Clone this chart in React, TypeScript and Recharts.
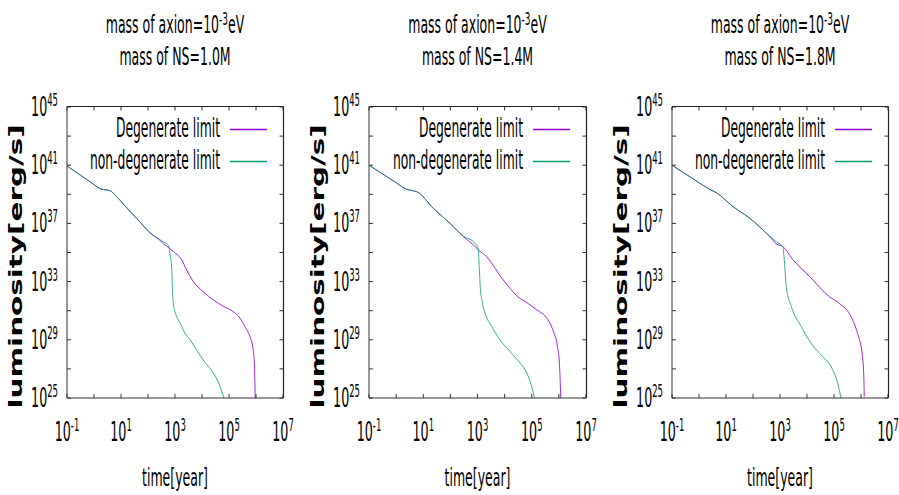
import React from "react";
import { LineChart, Line, XAxis, YAxis, Legend } from "recharts";

const FONT = "DejaVu Sans";
const AXIS = "#333";
const FRAME = "#222";
const DEG = "#9400d3";
const NONDEG = "#009e73";
const TXT_SX = 0.5;
const KEY_SX = 0.475;
const TICK_SX = 0.47;
const YW = 70; // left axis width
const RIGHT_PAD = 15;
const TOP = 107;
const PLOT_H = 291;

// axes are in decades: x = log10(time / year), y = log10(L / erg s^-1)
const xDomain = [-1, 7];
const yDomain = [25, 45];
const xTicks = [-1, 0, 1, 2, 3, 4, 5, 6, 7];
const xLabeled = [-1, 1, 3, 5, 7];
const yTicks = [25, 27, 29, 31, 33, 35, 37, 39, 41, 43, 45];
const yLabeled = [25, 29, 33, 37, 41, 45];

const axionExp = "-3";
const nsMasses = ["1.0", "1.4", "1.8"];

// NS = 1.0 M
const degT1 = [-1, -0.5, 0, 0.22, 0.45, 0.59, 0.84, 1.1, 1.46, 1.8, 2.07, 2.4, 2.57, 2.79, 2.94, 3.25, 3.43, 3.68, 4.05, 4.42, 4.79, 5.16, 5.41, 5.59, 5.78, 5.88, 5.94, 5.97];
const degL1 = [40.95, 40.31, 39.67, 39.39, 39.3, 39.25, 38.84, 38.3, 37.58, 36.9, 36.36, 35.9, 35.6, 35.3, 35.06, 34.49, 33.8, 33.0, 32.3, 31.74, 31.3, 30.93, 30.48, 29.9, 29.2, 28.5, 27.4, 25];
const nonT1 = [-1, -0.5, 0, 0.22, 0.45, 0.59, 0.84, 1.1, 1.46, 1.8, 2.07, 2.4, 2.57, 2.76, 2.81, 2.88, 2.9, 2.94, 3.06, 3.19, 3.37, 3.56, 3.8, 4.05, 4.42, 4.67, 4.81];
const nonL1 = [40.95, 40.31, 39.67, 39.39, 39.3, 39.25, 38.84, 38.3, 37.58, 36.9, 36.36, 35.95, 35.72, 35.5, 34.95, 33.8, 32.66, 31.5, 30.6, 30.15, 29.45, 29.0, 28.3, 27.6, 26.7, 25.8, 25];

// NS = 1.4 M
const degT2 = [-1, -0.5, 0, 0.39, 0.6, 0.76, 1.37, 1.99, 2.48, 2.85, 3.04, 3.34, 3.9, 4.2, 4.51, 4.76, 5.19, 5.56, 5.8, 5.95, 6.02, 6.07];
const degL2 = [41.0, 40.4, 39.8, 39.34, 39.25, 39.18, 38.04, 37.0, 36.09, 35.52, 35.17, 34.7, 33.23, 32.54, 31.92, 31.63, 31.05, 30.48, 29.56, 28.53, 27.38, 25];
const nonT2 = [-1, -0.5, 0, 0.39, 0.6, 0.76, 1.37, 1.99, 2.48, 2.85, 3.02, 3.07, 3.1, 3.16, 3.28, 3.53, 3.83, 4.2, 4.57, 4.82, 5.0, 5.1];
const nonL2 = [41.0, 40.4, 39.8, 39.34, 39.25, 39.18, 38.04, 37.0, 36.12, 35.74, 35.3, 33.8, 32.66, 31.74, 30.82, 29.9, 28.99, 28.19, 27.4, 26.7, 25.78, 25];

// NS = 1.8 M
const degT3 = [-1, -0.5, 0, 0.4, 0.65, 1.26, 1.88, 2.62, 2.86, 3.11, 3.48, 4.1, 4.83, 5.2, 5.63, 5.87, 6.04, 6.1, 6.12];
const degL3 = [41.0, 40.4, 39.8, 39.34, 39.1, 38.15, 37.35, 36.09, 35.6, 35.4, 34.5, 33.34, 31.96, 31.5, 30.6, 29.45, 28.07, 26.7, 25.1];
const nonT3 = [-1, -0.5, 0, 0.4, 0.65, 1.26, 1.88, 2.62, 2.86, 3.1, 3.17, 3.23, 3.42, 3.79, 4.15, 4.58, 4.89, 5.14, 5.26];
const nonL3 = [41.0, 40.4, 39.8, 39.34, 39.1, 38.15, 37.35, 36.12, 35.74, 35.4, 34.26, 32.65, 31.28, 29.9, 28.76, 27.84, 27.16, 26.0, 25];

const zip = (t: number[], l: number[]) => t.map((x, i) => ({ t: x, L: l[i] }));

const panels = [
  { left: 67, plotWidth: 216, ns: nsMasses[0], deg: zip(degT1, degL1), non: zip(nonT1, nonL1) },
  { left: 369, plotWidth: 217, ns: nsMasses[1], deg: zip(degT2, degL2), non: zip(nonT2, nonL2) },
  { left: 672, plotWidth: 216, ns: nsMasses[2], deg: zip(degT3, degL3), non: zip(nonT3, nonL3) },
];

function Pow({ x, y, exp, anchor }: any) {
  return (
    <text
      transform={`translate(${x},${y}) scale(${TICK_SX},1)`}
      textAnchor={anchor}
      fontFamily={FONT}
      fontSize={27}
      fill="#000"
    >
      10
      <tspan fontSize={18} dy={-10}>
        {exp}
      </tspan>
    </text>
  );
}

const BottomTick = (props: any) => {
  const { x, y, payload } = props;
  return (
    <g>
      <line x1={x} x2={x} y1={y} y2={y - 4} stroke={AXIS} />
      {xLabeled.includes(payload.value) && <Pow x={x} y={y + 43} exp={payload.value} anchor="middle" />}
    </g>
  );
};

const LeftTick = (props: any) => {
  const { x, y, payload } = props;
  return (
    <g>
      <line x1={x} x2={x + 4} y1={y} y2={y} stroke={AXIS} />
      {yLabeled.includes(payload.value) && <Pow x={x - 9} y={y + 9} exp={payload.value} anchor="end" />}
    </g>
  );
};

const XTitle = (props: any) => {
  const { x, y, width } = props.viewBox;
  return (
    <text
      transform={`translate(${x + width / 2},${y + 88}) scale(${TXT_SX},1)`}
      textAnchor="middle"
      fontFamily={FONT}
      fontSize={25}
      fill="#000"
    >
      time[year]
    </text>
  );
};

const YTitle = (props: any) => {
  const { x, y, width, height } = props.viewBox;
  return (
    <text
      transform={`translate(${x + width - 45},${y + height / 2 + 14}) rotate(-90) scale(1.05,0.66)`}
      textAnchor="middle"
      fontFamily={FONT}
      fontWeight="bold"
      fontSize={28}
      fill="#000"
    >
      luminosity[erg/s]
    </text>
  );
};

const KeyBox = (props: any) => {
  const { payload, w } = props;
  return (
    <svg width={w} height={70} style={{ display: "block" }}>
      {(payload || []).map((p: any, i: number) => (
        <g key={p.value}>
          <text
            transform={`translate(${w - 63},${30 + i * 32}) scale(${KEY_SX},1)`}
            textAnchor="end"
            fontFamily={FONT}
            fontSize={26}
            fill="#000"
          >
            {p.value}
          </text>
          <line x1={w - 53} x2={w - 16} y1={22.5 + i * 32} y2={22.5 + i * 32} stroke={p.color} strokeWidth={1.3} />
        </g>
      ))}
    </svg>
  );
};

// top and right edges of the box with inward mirror tics (gnuplot border look)
function MirrorFrame({ w, plotWidth }: any) {
  const [x0, x1] = xDomain;
  const [y0, y1] = yDomain;
  const right = YW + plotWidth + 0.5;
  const top = TOP - 0.5;
  const px = (v: number) => YW + ((v - x0) / (x1 - x0)) * plotWidth;
  const py = (v: number) => TOP + ((y1 - v) / (y1 - y0)) * PLOT_H;
  return (
    <svg width={w} height={495} style={{ position: "absolute", left: 0, top: 0, pointerEvents: "none", zIndex: 5 }}>
      <line x1={YW} x2={right} y1={top} y2={top} stroke={FRAME} strokeWidth={1.2} />
      <line x1={right} x2={right} y1={top} y2={TOP + PLOT_H} stroke={FRAME} strokeWidth={1.2} />
      {xTicks.map((v) => (
        <line key={`tx${v}`} x1={px(v)} x2={px(v)} y1={top} y2={top + 4} stroke={AXIS} />
      ))}
      {yTicks.map((v) => (
        <line key={`ty${v}`} x1={right} x2={right - 4} y1={py(v)} y2={py(v)} stroke={AXIS} />
      ))}
    </svg>
  );
}

function Panel({ left, plotWidth, ns, deg, non }: any) {
  const w = YW + plotWidth + RIGHT_PAD;
  const cx = YW + plotWidth / 2;
  return (
    <div style={{ position: "absolute", left: left - YW, top: 0, width: w, height: 495 }}>
      <svg width={w} height={80} style={{ position: "absolute", left: 0, top: 0 }}>
        <text
          transform={`translate(${cx},33) scale(${TXT_SX},1)`}
          textAnchor="middle"
          fontFamily={FONT}
          fontSize={25}
          fill="#000"
        >
          mass of axion=10
          <tspan fontSize={18} dy={-8}>
            {axionExp}
          </tspan>
          <tspan fontSize={25} dy={8}>
            eV
          </tspan>
        </text>
        <text
          transform={`translate(${cx},65) scale(${TXT_SX},1)`}
          textAnchor="middle"
          fontFamily={FONT}
          fontSize={25}
          fill="#000"
        >
          {`mass of NS=${ns}M`}
        </text>
      </svg>
      <LineChart width={w} height={495} margin={{ top: TOP, right: RIGHT_PAD, bottom: 0, left: 0 }}>
        <XAxis
          dataKey="t"
          type="number"
          domain={xDomain}
          ticks={xTicks}
          interval={0}
          allowDataOverflow
          tickSize={0}
          tickMargin={0}
          tickLine={false}
          stroke={AXIS}
          height={97}
          tick={<BottomTick />}
          label={<XTitle />}
        />
        <YAxis
          type="number"
          domain={yDomain}
          ticks={yTicks}
          interval={0}
          allowDataOverflow
          tickSize={0}
          tickMargin={0}
          tickLine={false}
          stroke={AXIS}
          width={YW}
          tick={<LeftTick />}
          label={<YTitle />}
        />
        <Legend
          layout="horizontal"
          verticalAlign="middle"
          align="center"
          width={plotWidth}
          height={70}
          wrapperStyle={{ left: YW, top: TOP, width: plotWidth, height: 70 }}
          content={<KeyBox w={plotWidth} />}
        />
        <Line
          data={deg}
          dataKey="L"
          name="Degenerate limit"
          type="monotone"
          stroke={DEG}
          strokeWidth={1}
          strokeOpacity={0.85}
          dot={false}
          isAnimationActive={false}
        />
        <Line
          data={non}
          dataKey="L"
          name="non-degenerate limit"
          type="monotone"
          stroke={NONDEG}
          strokeWidth={1}
          strokeOpacity={0.8}
          dot={false}
          isAnimationActive={false}
        />
      </LineChart>
      <MirrorFrame w={w} plotWidth={plotWidth} />
    </div>
  );
}

export default function App() {
  return (
    <div style={{ position: "absolute", left: 0, top: 0, width: 899, height: 495, background: "#fff" }}>
      {panels.map((p) => (
        <Panel key={p.ns} {...p} />
      ))}
    </div>
  );
}
